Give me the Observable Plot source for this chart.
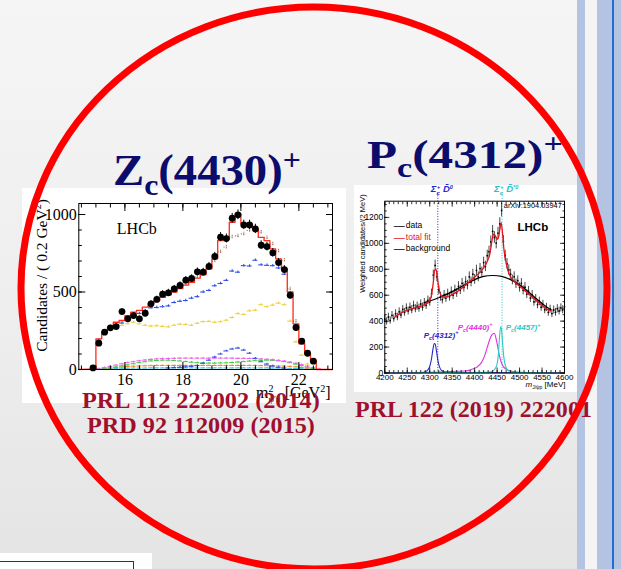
<!DOCTYPE html>
<html>
<head>
<meta charset="utf-8">
<script src="https://cdn.jsdelivr.net/npm/d3@7"></script>
<script src="https://cdn.jsdelivr.net/npm/@observablehq/plot@0.6"></script>
<style>
  html, body { margin: 0; padding: 0; }
  body { width: 621px; height: 569px; overflow: hidden; position: relative;
         background: linear-gradient(to bottom, #f5f5f5 0%, #eeeeee 55%, #e4e4e4 100%); }
  .abs { position: absolute; }
  #zc { left: 22px; top: 188px; }
  #pc { left: 354px; top: 185px; }
  #overlay { left: 0; top: 0; pointer-events: none; }
  .title { font-family: 'Liberation Serif', 'Times New Roman', serif; font-weight: bold; fill: #0c0c6c; }
  .ref { font-family: 'Liberation Serif', 'Times New Roman', serif; font-weight: bold; fill: #a0102e; font-size: 23px; }
</style>
</head>
<body>
<div class="abs" style="left:577px;top:0;width:8px;height:569px;background:#b3c3e1"></div>
<div class="abs" style="left:585px;top:0;width:12px;height:569px;background:#f4f4f4"></div>
<div class="abs" style="left:597px;top:0;width:15px;height:569px;background:#b3c3e1"></div>
<div class="abs" style="left:612px;top:0;width:2px;height:569px;background:#1f6ed2"></div>
<div class="abs" style="left:614px;top:0;width:7px;height:569px;background:#b3c3e1"></div>
<div class="abs" style="left:0;top:553px;width:152px;height:16px;background:#fff"></div>
<div class="abs" style="left:-1px;top:561px;width:135px;height:14px;border:1px solid #333;box-sizing:border-box"></div>
<div id="zc" class="abs"></div>
<div id="pc" class="abs"></div>
<svg id="overlay" class="abs" width="621" height="569">
  <text class="title" x="113" y="185" font-size="44" data-w="188">Z<tspan font-size="30" dy="10">c</tspan><tspan dy="-10">(4430)</tspan><tspan font-size="30" dy="-15">+</tspan></text>
  <text class="title" x="367" y="168" font-size="39" data-w="196">P<tspan font-size="27" dy="9">c</tspan><tspan dy="-9">(4312)</tspan><tspan font-size="27" dy="-15">+</tspan></text>
  <text class="ref" x="82" y="408" data-w="238">PRL 112 222002 (2014)</text>
  <text class="ref" x="87" y="433" data-w="228">PRD 92 112009 (2015)</text>
  <text class="ref" x="355" y="417" data-w="237">PRL 122 (2019) 222001</text>
  <ellipse cx="314" cy="288" rx="293" ry="281" fill="none" stroke="#ff0000" stroke-width="7"/>
</svg>
<script>
// ---------- Z_c(4430)+ : m^2(psi' pi+) in 0.2 GeV^2 bins ----------
const zcBin  = [14.9,15.1,15.3,15.5,15.7,15.9,16.1,16.3,16.5,16.7,16.9,17.1,17.3,17.5,17.7,17.9,18.1,18.3,18.5,18.7,18.9,19.1,19.3,19.5,19.7,19.9,20.1,20.3,20.5,20.7,20.9,21.1,21.3,21.5,21.7,21.9,22.1,22.3,22.5];
const zcData = [10,170,241,269,277,374,327,348,327,363,424,452,486,495,520,542,576,587,630,628,665,729,854,845,976,998,933,933,907,802,793,753,690,645,479,271,183,105,54];
const zcFit  = [3,198,241,273,305,316,348,370,381,402,424,445,466,482,500,522,545,562,590,612,650,714,832,840,950,1005,940,940,907,853,832,778,714,650,500,295,166,101,58];

// fit without the Z_c state (dotted)
const zcAltBin = [17.3,17.5,17.7,17.9,18.1,18.3,18.5,18.7,18.9,19.1,19.3,19.5,19.7,19.9,20.1,20.3,20.5,20.7,20.9,21.1,21.3,21.5,21.7,21.9];
const zcAlt    = [470,488,505,528,550,570,598,620,655,700,760,790,855,862,875,897,912,886,850,810,765,705,520,312];

const zcBlueBin = [15.1,15.3,15.5,15.7,15.9,16.1,16.3,16.5,16.7,16.9,17.1,17.3,17.5,17.7,17.9,18.1,18.3,18.5,18.7,18.9,19.1,19.3,19.5,19.7,19.9,20.1,20.3,20.5,20.7,20.9,21.1,21.3,21.5,21.7,21.9,22.1,22.3,22.5];
const zcBlue    = [190,235,262,288,300,325,345,362,380,398,400,405,410,432,440,445,460,470,500,510,540,555,575,635,628,670,668,705,675,672,670,655,615,470,268,168,95,48];

const zcYellowBin = [15.5,15.7,15.9,16.1,16.3,16.5,16.7,16.9,17.1,17.3,17.5,17.7,17.9,18.1,18.3,18.5,18.7,18.9,19.1,19.3,19.5,19.7,19.9,20.1,20.3,20.5,20.7,20.9,21.1,21.3,21.5,21.7,21.9,22.1,22.3];
const zcYellow    = [270,280,285,295,305,295,285,280,282,278,275,285,292,290,285,298,308,310,305,308,318,335,360,355,378,382,418,405,415,428,418,312,178,92,35];

const zcMagentaBin = [15.1,15.3,15.5,15.7,15.9,16.1,16.3,16.5,16.7,16.9,17.1,17.3,17.5,17.7,17.9,18.1,18.3,18.5,18.7,18.9,19.1,19.3,19.5,19.7,19.9,20.1,20.3,20.5,20.7,20.9,21.1,21.3,21.5,21.7,21.9,22.1,22.3,22.5,22.7];
const zcMagenta    = [5,12,20,28,36,44,50,56,61,65,68,70,71,72,73,73,73,73,73,73,73,73,73,73,72,72,71,70,68,66,63,59,54,48,40,31,22,12,4];

const zcGreenBin = [15.3,15.5,15.7,15.9,16.1,16.3,16.5,16.7,16.9,17.1,17.3,17.5,17.7,17.9,18.1,18.3,18.5,18.7,18.9,19.1,19.3,19.5,19.7,19.9,20.1,20.3,20.5,20.7,20.9,21.1,21.3,21.5,21.7,21.9,22.1,22.3,22.5];
const zcGreen    = [5,10,16,23,30,37,44,50,55,58,60,60,58,55,51,47,44,42,41,41,42,43,45,48,51,54,57,59,60,59,56,51,44,35,25,15,6];
const zcOrange   = [5,9,13,16,19,21,23,24,25,26,26,26,26,26,26,26,26,26,26,26,26,26,26,26,26,26,26,25,25,24,23,22,20,17,13,9,5];

const zcCyanBin = zcBlueBin;
const zcCyan    = [3,5,6,7,8,8,9,9,9,10,10,10,10,10,10,10,10,10,10,10,10,10,10,10,10,10,10,10,10,10,9,9,8,7,6,5,4,3];

const zcBumpBin = [17.5,17.7,17.9,18.1,18.3,18.5,18.7,18.9,19.1,19.3,19.5,19.7,19.9,20.1,20.3,20.5,20.7,20.9,21.1,21.3,21.5];
const zcBump    = [10,12,14,17,20,25,40,60,80,100,120,132,138,125,105,72,50,35,22,14,10];

const zcXTicks = [16, 18, 20, 22];
const zcYTicks = [0, 500, 1000];

// ---------- P_c states : m(J/psi p) ----------
const pcMass = [4200,4204,4208,4212,4216,4220,4224,4228,4232,4236,4240,4244,4248,4252,4256,4260,4264,4268,4272,4276,4280,4284,4288,4292,4296,4300,4304,4308,4312,4316,4320,4324,4328,4332,4336,4340,4344,4348,4352,4356,4360,4364,4368,4372,4376,4380,4384,4388,4392,4396,4400,4404,4408,4412,4416,4420,4424,4428,4432,4436,4440,4444,4448,4452,4456,4460,4464,4468,4472,4476,4480,4484,4488,4492,4496,4500,4504,4508,4512,4516,4520,4524,4528,4532,4536,4540,4544,4548,4552,4556,4560,4564,4568,4572,4576,4580,4584,4588,4592,4596,4600];
const pcData = [415,398,432,405,445,420,458,432,472,448,490,468,502,478,508,488,522,496,516,500,532,508,542,522,560,548,612,755,830,742,640,588,566,602,578,612,588,628,600,642,618,668,640,692,660,705,678,742,702,762,722,792,742,805,778,852,822,905,935,1012,1092,1045,1002,1078,1150,1255,1015,905,842,795,762,718,742,688,712,660,692,638,662,608,632,578,602,548,572,528,552,508,528,488,506,468,492,458,486,468,496,478,502,488,512];

const pcFitMass = [4222,4230,4240,4250,4260,4270,4280,4290,4296,4300,4304,4308,4311,4314,4317,4320,4325,4330,4340,4350,4360,4370,4380,4390,4400,4410,4420,4428,4434,4438,4442,4446,4450,4454,4457,4459,4462,4465,4470,4475,4480,4490,4500,4510,4520,4530,4540,4550,4560,4570];
const pcFit     = [430,450,470,485,495,505,515,530,545,560,600,700,790,800,740,660,600,585,590,605,625,650,680,710,740,770,810,860,920,1010,1070,1060,1030,1060,1130,1160,1080,960,850,780,740,700,670,640,610,580,550,520,495,480];

const pcBgMass = [4290,4300,4320,4340,4360,4380,4400,4420,4440,4460,4480,4500,4520,4540,4560,4570];
const pcBg     = [545,555,580,610,645,685,720,745,752,745,720,680,625,565,510,490];

const pc4312Mass = [4200,4280,4290,4296,4300,4304,4307,4310,4312,4315,4318,4322,4326,4335,4350,4600];
const pc4312     = [0,3,10,25,50,110,180,228,225,170,100,45,20,8,3,0];
const pc4440Mass = [4200,4380,4395,4405,4415,4422,4430,4436,4440,4444,4448,4452,4456,4462,4470,4485,4500,4600];
const pc4440     = [0,15,30,45,80,130,220,280,300,306,260,190,120,60,30,12,6,0];
const pc4457Mass = [4200,4430,4440,4446,4450,4453,4455,4458,4460,4462,4465,4469,4475,4490,4600];
const pc4457     = [0,5,15,35,70,150,260,358,330,240,120,50,18,5,0];

const pcThresholds = [{m: 4318, color: "#2828d0"}, {m: 4461, color: "#28c0c8"}];
const pcXTicks = [4200,4250,4300,4350,4400,4450,4500,4550,4600];
const pcYTicks = [0,200,400,600,800,1000,1200];

// ---------- helpers ----------
const pts = (xs, ys) => xs.map((x, i) => ({x, y: ys[i]}));

// ROOT-style error crosses: horizontal bin segment plus a short vertical bar
function crosses(xs, ys, color, err, dash) {
  const d = pts(xs, ys);
  return [
    Plot.ruleY(d, {y: "y", x1: p => p.x - 0.085, x2: p => p.x + 0.085, stroke: color, strokeWidth: 1.1, strokeDasharray: dash}),
    Plot.ruleX(d, {x: "x", y1: p => p.y - err, y2: p => p.y + err, stroke: color, strokeWidth: 1.1, strokeDasharray: dash})
  ];
}

// outline of a histogram whose bins are given by their centres
function outline(xs, ys, half, lo, hi) {
  const o = [{x: lo, y: 0}];
  xs.forEach((x, i) => { o.push({x: x - half, y: ys[i]}, {x: x + half, y: ys[i]}); });
  o.push({x: xs[xs.length - 1] + half, y: 0}, {x: hi, y: 0});
  return o;
}

// swap plain label strings for marked-up versions with sub/superscripts
function richText(svg, map) {
  d3.select(svg).selectAll("text").each(function () {
    const t = this.textContent;
    if (map[t]) this.innerHTML = map[t];
  });
}

function fitWidths() {
  document.querySelectorAll("#overlay text[data-w]").forEach(el => {
    const w = +el.getAttribute("data-w");
    const bw = el.getBBox().width;
    const x = +el.getAttribute("x");
    if (bw > 0) el.setAttribute("transform", `translate(${x},0) scale(${w / bw},1) translate(${-x},0)`);
  });
}

// ---------- Z_c(4430) plot ----------
const zcDomainX = [14.41, 23.16];
const zcMinorX = d3.range(14.5, 23.01, 0.5);
const zcMinorY = d3.range(0, 1001, 100);
const serif = "'Liberation Serif', 'Times New Roman', serif";

const zcPlot = Plot.plot({
  width: 324, height: 215,
  marginLeft: 56.3, marginRight: 14, marginTop: 15, marginBottom: 34,
  x: {domain: zcDomainX},
  y: {domain: [0, 1071]},
  style: {fontFamily: serif, fontSize: "16px", background: "#fff", overflow: "visible", color: "#000"},
  marks: [
    ...crosses(zcCyanBin, zcCyan, "#30c8e8", 3),
    ...crosses(zcGreenBin, zcOrange, "#f08a20", 3),
    ...crosses(zcGreenBin, zcGreen, "#44cc44", 4),
    ...crosses(zcMagentaBin, zcMagenta, "#f060f0", 4),
    ...crosses(zcBumpBin, zcBump, "#3050e8", 5),
    ...crosses(zcYellowBin, zcYellow, "#f0d040", 7),
    ...crosses(zcBlueBin, zcBlue, "#3050e8", 8),
    ...crosses(zcAltBin, zcAlt, "#a07a68", 12, "1.2,1.2"),
    Plot.line(outline(zcBin, zcFit, 0.1, zcDomainX[0], zcDomainX[1]), {x: "x", y: "y", stroke: "#ff2a1a", strokeWidth: 1.3}),
    Plot.ruleX(pts(zcBin, zcData), {x: "x", y1: p => p.y - Math.sqrt(p.y), y2: p => p.y + Math.sqrt(p.y), stroke: "#000"}),
    Plot.dot(pts(zcBin, zcData), {x: "x", y: "y", r: 3.4, fill: "#000", stroke: null}),
    Plot.frame({stroke: "#000"}),
    Plot.axisX(zcMinorX, {anchor: "bottom", tickSize: -3.5, fill: "none", label: null}),
    Plot.axisX(zcMinorX, {anchor: "top", tickSize: -3.5, fill: "none", label: null}),
    Plot.axisX(zcXTicks, {anchor: "bottom", tickSize: -7, fill: "none", label: null}),
    Plot.axisX(zcXTicks, {anchor: "top", tickSize: -7, fill: "none", label: null}),
    Plot.axisY(zcMinorY, {anchor: "left", tickSize: -3.5, fill: "none", label: null}),
    Plot.axisY(zcMinorY, {anchor: "right", tickSize: -3.5, fill: "none", label: null}),
    Plot.axisY(zcYTicks, {anchor: "left", tickSize: -7, fill: "none", label: null}),
    Plot.axisY(zcYTicks, {anchor: "right", tickSize: -7, fill: "none", label: null}),
    Plot.axisX(zcXTicks, {anchor: "bottom", tickSize: 0, tickPadding: 4, label: null, fontSize: 16, tickFormat: d => String(d)}),
    Plot.axisY(zcYTicks, {anchor: "left", tickSize: 0, tickPadding: 2, label: null, fontSize: 16, tickFormat: d => String(d)}),
    Plot.text(["LHCb"], {text: d => d, frameAnchor: "top-left", textAnchor: "start", lineAnchor: "middle", dx: 38, dy: 25, fontSize: 16}),
    Plot.text(["Candidates / ( 0.2 GeV2)"], {text: d => d, frameAnchor: "left", textAnchor: "middle", lineAnchor: "middle", rotate: -90, dx: -37, dy: -11, fontSize: 15.5}),
    Plot.text(["m2psi [GeV2]"], {text: d => d, frameAnchor: "bottom-right", textAnchor: "end", lineAnchor: "middle", dx: -2, dy: 23, fontSize: 16})
  ]
});
richText(zcPlot, {
  "Candidates / ( 0.2 GeV2)": 'Candidates / ( 0.2 GeV<tspan font-size="10" dy="-6">2</tspan><tspan dy="6">)</tspan>',
  "m2psi [GeV2]": 'm<tspan font-size="10" dy="-6">2</tspan><tspan font-size="9" dx="-5" dy="10">ψ′π</tspan><tspan dy="-4"> [GeV</tspan><tspan font-size="10" dy="-6">2</tspan><tspan dy="6">]</tspan>'
});
document.getElementById("zc").append(zcPlot);

// ---------- P_c plot ----------
const sans = "'Liberation Sans', Arial, Helvetica, sans-serif";
const pcMinorX = d3.range(4200, 4601, 10);
const pcMinorY = d3.range(0, 1301, 50);
const pcPts = pts(pcMass, pcData);
const tl = {frameAnchor: "top-left", textAnchor: "start", lineAnchor: "middle"};

const pcPlot = Plot.plot({
  width: 223, height: 207,
  marginLeft: 30.3, marginRight: 13, marginTop: 15.7, marginBottom: 19.5,
  x: {domain: [4200, 4600]},
  y: {domain: [0, 1325]},
  style: {fontFamily: sans, fontSize: "8px", background: "#fff", overflow: "visible", color: "#000"},
  marks: [
    ...pcThresholds.map(t => Plot.ruleX([t.m], {x: d => d, stroke: t.color, strokeWidth: 1, strokeDasharray: "1,1.6", insetTop: -8})),
    Plot.line(pts(pc4312Mass, pc4312), {x: "x", y: "y", curve: "monotone-x", stroke: "#2626c8", strokeWidth: 1.1}),
    Plot.line(pts(pc4440Mass, pc4440), {x: "x", y: "y", curve: "monotone-x", stroke: "#e530e5", strokeWidth: 1.1}),
    Plot.line(pts(pc4457Mass, pc4457), {x: "x", y: "y", curve: "monotone-x", stroke: "#2cc8c8", strokeWidth: 1.1}),
    Plot.ruleX(pcPts, {x: "x", y1: p => p.y - 1.4 * Math.sqrt(p.y), y2: p => p.y + 1.4 * Math.sqrt(p.y), stroke: "#1a1a1a", strokeWidth: 0.8}),
    Plot.dot(pcPts, {x: "x", y: "y", r: 0.9, fill: "#000", stroke: null}),
    Plot.line(pts(pcBgMass, pcBg), {x: "x", y: "y", curve: "natural", stroke: "#000", strokeWidth: 1.2}),
    Plot.line(pts(pcFitMass, pcFit), {x: "x", y: "y", curve: "monotone-x", stroke: "#e4141c", strokeWidth: 1.3}),
    Plot.frame({stroke: "#000"}),
    Plot.axisX(pcMinorX, {anchor: "bottom", tickSize: -2.5, fill: "none", label: null, strokeWidth: 0.8}),
    Plot.axisX(pcXTicks, {anchor: "bottom", tickSize: -5, fill: "none", label: null, strokeWidth: 0.8}),
    Plot.axisX(pcMinorX, {anchor: "top", tickSize: -2.5, fill: "none", label: null, strokeWidth: 0.8}),
    Plot.axisX(pcXTicks, {anchor: "top", tickSize: -5, fill: "none", label: null, strokeWidth: 0.8}),
    Plot.axisY(pcMinorY, {anchor: "left", tickSize: -2.5, fill: "none", label: null, strokeWidth: 0.8}),
    Plot.axisY(pcYTicks, {anchor: "left", tickSize: -5, fill: "none", label: null, strokeWidth: 0.8}),
    Plot.axisY(pcMinorY, {anchor: "right", tickSize: -2.5, fill: "none", label: null, strokeWidth: 0.8}),
    Plot.axisY(pcYTicks, {anchor: "right", tickSize: -5, fill: "none", label: null, strokeWidth: 0.8}),
    Plot.axisX(pcXTicks, {anchor: "bottom", tickSize: 0, tickPadding: 1.5, label: null, fontSize: 8, tickFormat: d => String(d)}),
    Plot.axisY(pcYTicks, {anchor: "left", tickSize: 0, tickPadding: 1.5, label: null, fontSize: 8.5, tickFormat: d => String(d)}),
    Plot.text(["Weighted candidates/(2 MeV)"], {text: d => d, frameAnchor: "top-left", rotate: -90, textAnchor: "end", lineAnchor: "middle", dx: -22.5, dy: -7, fontSize: 7.5}),
    Plot.text(["mJpsip [MeV]"], {text: d => d, frameAnchor: "bottom-right", textAnchor: "end", lineAnchor: "middle", dx: 1, dy: 11.5, fontSize: 8}),
    Plot.text(["arXiv:1904.03947"], {...tl, text: d => d, dx: 119, dy: 4.5, fontSize: 7.4}),
    Plot.text(["LHCb"], {...tl, text: d => d, dx: 132.7, dy: 26, fontSize: 11.5, fontWeight: "bold"}),
    // legend
    Plot.text(["data"], {...tl, text: d => d, dx: 21, dy: 24.5, fontSize: 8.5}),
    Plot.text(["total fit"], {...tl, text: d => d, dx: 21, dy: 36, fontSize: 8.5, fill: "#e4141c"}),
    Plot.text(["background"], {...tl, text: d => d, dx: 21, dy: 47.5, fontSize: 8.5}),
    Plot.text(["—"], {...tl, text: d => d, textAnchor: "middle", dx: 14.5, dy: 24.5, fontSize: 11, fill: "#000"}),
    Plot.text(["—"], {...tl, text: d => d, textAnchor: "middle", dx: 14.5, dy: 36, fontSize: 11, fill: "#e4141c"}),
    Plot.text(["—"], {...tl, text: d => d, textAnchor: "middle", dx: 14.5, dy: 47.5, fontSize: 11, fill: "#000"}),
    // thresholds
    Plot.text(["Sc D0"], {text: d => d, x: () => pcThresholds[0].m, frameAnchor: "top", textAnchor: "start", lineAnchor: "middle", dx: -7, dy: -12, fontSize: 9.5, fontWeight: "bold", fontStyle: "italic", fill: pcThresholds[0].color}),
    Plot.text(["Sc D*0"], {text: d => d, x: () => pcThresholds[1].m, frameAnchor: "top", textAnchor: "start", lineAnchor: "middle", dx: -8, dy: -12, fontSize: 9.5, fontWeight: "bold", fontStyle: "italic", fill: pcThresholds[1].color}),
    // state labels at the peaks
    Plot.text(["Pc(4312)+"], {text: d => d, x: () => 4311, y: () => 229, textAnchor: "start", dx: -11, dy: -8, fontSize: 8, fontWeight: "bold", fontStyle: "italic", fill: "#2626c8"}),
    Plot.text(["Pc(4440)+"], {text: d => d, x: () => 4443, y: () => 306, textAnchor: "end", dx: -1.5, dy: -6, fontSize: 8, fontWeight: "bold", fontStyle: "italic", fill: "#e530e5"}),
    Plot.text(["Pc(4457)+"], {text: d => d, x: () => 4458, y: () => 358, textAnchor: "start", dx: 5, dy: 1, fontSize: 8, fontWeight: "bold", fontStyle: "italic", fill: "#2cc8c8"})
  ]
});
const sup = s => `<tspan font-size="5.5" dy="-3.5">${s}</tspan>`;
const pcLabel = n => `P<tspan font-size="5.5" dy="2">c</tspan><tspan dy="-2">(${n})</tspan><tspan font-size="5.5" dy="-3.5">+</tspan>`;
richText(pcPlot, {
  "Sc D0": `Σ<tspan font-size="6" dy="2.5">c</tspan><tspan font-size="6" dx="-3" dy="-6">+</tspan><tspan dy="3.5"> D̄</tspan>${sup("0")}`,
  "Sc D*0": `Σ<tspan font-size="6" dy="2.5">c</tspan><tspan font-size="6" dx="-3" dy="-6">+</tspan><tspan dy="3.5"> D̄</tspan>${sup("*0")}`,
  "Pc(4312)+": pcLabel("4312"),
  "Pc(4440)+": pcLabel("4440"),
  "Pc(4457)+": pcLabel("4457"),
  "mJpsip [MeV]": `<tspan font-style="italic">m</tspan><tspan font-size="5" dy="2">J/ψp</tspan><tspan dy="-2"> [MeV]</tspan>`
});
document.getElementById("pc").append(pcPlot);

fitWidths();
</script>
</body>
</html>
